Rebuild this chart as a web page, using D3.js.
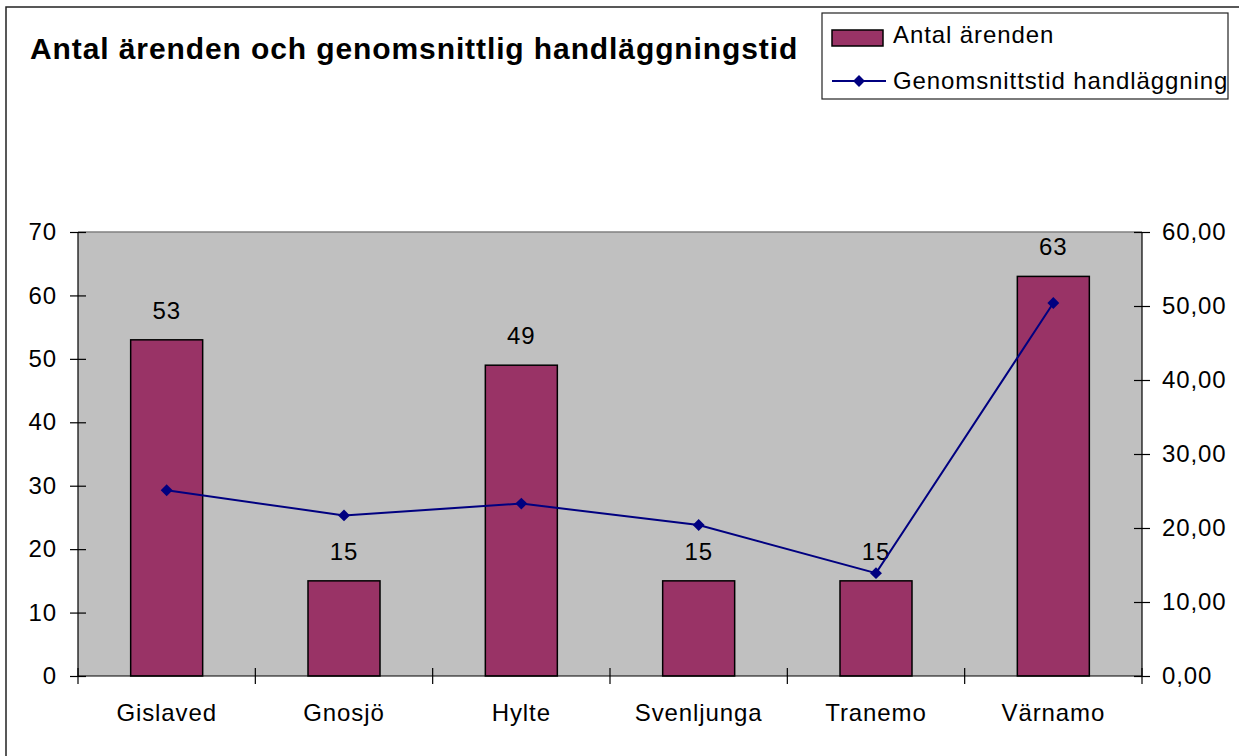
<!doctype html>
<html lang="sv">
<head>
<meta charset="utf-8">
<title>Antal ärenden och genomsnittlig handläggningstid</title>
<script src="https://cdn.jsdelivr.net/npm/d3@7"></script>
<style>
    body { margin: 0; background: #ffffff; }
    svg { display: block; font-family: "Liberation Sans", Arial, sans-serif; }
    text { letter-spacing: 0.9px; }
    .bar { fill: #993366; stroke: #000000; stroke-width: 1.5; }
    .axis path, .axis line { stroke: #000000; stroke-width: 1.2; }
    .axis text { font-size: 24px; fill: #000000; }
</style>
</head>
<body>
<svg></svg>
<script>
    var width = 1239;
    var height = 756;

    var kommuner = ['Gislaved', 'Gnosjö', 'Hylte', 'Svenljunga', 'Tranemo', 'Värnamo'];
    var antalArenden = [53, 15, 49, 15, 15, 63];
    var genomsnittstid = [25.1, 21.7, 23.3, 20.4, 13.9, 50.4];
    var leftTicks = [0, 10, 20, 30, 40, 50, 60, 70];
    var rightTicks = [0, 10, 20, 30, 40, 50, 60];

    var plot = { left: 78, right: 1142, top: 232, bottom: 676 };

    var svg = d3.select('svg').attr('width', width).attr('height', height);

    // outer chart frame
    svg.append('rect')
        .attr('x', 6).attr('y', 7)
        .attr('width', width + 10).attr('height', height + 10)
        .attr('fill', '#ffffff')
        .attr('stroke', '#222222')
        .attr('stroke-width', 1.5);

    var xScale = d3.scaleBand()
        .domain(kommuner)
        .range([plot.left, plot.right])
        .paddingInner(0.594)
        .paddingOuter(0.297);
    var xEdges = d3.scaleLinear()
        .domain([0, kommuner.length])
        .range([plot.left, plot.right]);
    var yLeft = d3.scaleLinear()
        .domain([0, 70])
        .range([plot.bottom, plot.top]);
    var yRight = d3.scaleLinear()
        .domain([0, 60])
        .range([plot.bottom, plot.top]);

    // plot area
    svg.append('rect')
        .attr('x', plot.left).attr('y', plot.top)
        .attr('width', plot.right - plot.left)
        .attr('height', plot.bottom - plot.top)
        .attr('fill', '#c0c0c0');
    svg.append('line')
        .attr('x1', plot.left).attr('x2', plot.right)
        .attr('y1', plot.top).attr('y2', plot.top)
        .attr('stroke', '#808080').attr('stroke-width', 1.5);

    // bars
    svg.selectAll('.bar')
        .data(antalArenden)
        .enter()
        .append('rect')
        .attr('class', 'bar')
        .attr('x', function (d, i) { return xScale(kommuner[i]); })
        .attr('y', function (d) { return yLeft(d); })
        .attr('width', xScale.bandwidth())
        .attr('height', function (d) { return plot.bottom - yLeft(d); });

    // bar labels
    svg.selectAll('.barlabel')
        .data(antalArenden)
        .enter()
        .append('text')
        .attr('class', 'barlabel')
        .attr('x', function (d, i) { return xScale(kommuner[i]) + xScale.bandwidth() / 2; })
        .attr('y', function (d) { return yLeft(d) - 21; })
        .attr('text-anchor', 'middle')
        .attr('font-size', '24px')
        .text(function (d) { return d; });

    // line
    var cx = function (d, i) { return xScale(kommuner[i]) + xScale.bandwidth() / 2; };
    var line = d3.line()
        .x(cx)
        .y(function (d) { return yRight(d); });
    svg.append('path')
        .datum(genomsnittstid)
        .attr('d', line)
        .attr('fill', 'none')
        .attr('stroke', '#000080')
        .attr('stroke-width', 2);
    var diamond = d3.symbol().type(d3.symbolDiamond2).size(90);
    svg.selectAll('.marker')
        .data(genomsnittstid)
        .enter()
        .append('path')
        .attr('class', 'marker')
        .attr('d', diamond)
        .attr('fill', '#000080')
        .attr('transform', function (d, i) {
            return 'translate(' + cx(d, i) + ',' + yRight(d) + ')';
        });

    // axes
    var leftAxis = d3.axisLeft(yLeft).tickValues(leftTicks).tickSize(8).tickPadding(13);
    var gl = svg.append('g').attr('class', 'axis')
        .attr('transform', 'translate(' + plot.left + ',0)')
        .call(leftAxis);
    gl.select('.domain').attr('d', 'M0,' + plot.top + 'V' + plot.bottom);
    gl.selectAll('.tick line').attr('x1', 8).attr('x2', -8);

    var fmt = d3.format('.2f');
    var rightAxis = d3.axisRight(yRight).tickValues(rightTicks).tickSize(8).tickPadding(12)
        .tickFormat(function (d) { return fmt(d).replace('.', ','); });
    var gr = svg.append('g').attr('class', 'axis')
        .attr('transform', 'translate(' + plot.right + ',0)')
        .call(rightAxis);
    gr.select('.domain').attr('d', 'M0,' + plot.top + 'V' + plot.bottom);
    gr.selectAll('.tick line').attr('x1', -8).attr('x2', 8);

    var bottomAxis = d3.axisBottom(xScale).tickSize(0).tickPadding(28);
    var gb = svg.append('g').attr('class', 'axis')
        .attr('transform', 'translate(0,' + plot.bottom + ')')
        .call(bottomAxis);
    gb.select('.domain').attr('d', 'M' + plot.left + ',0H' + plot.right);
    gb.selectAll('.edge')
        .data(d3.range(kommuner.length + 1))
        .enter()
        .append('line')
        .attr('class', 'edge')
        .attr('x1', function (d) { return xEdges(d); })
        .attr('x2', function (d) { return xEdges(d); })
        .attr('y1', -8).attr('y2', 8);

    // title
    svg.append('text')
        .attr('x', 30).attr('y', 59)
        .attr('font-size', '30px')
        .attr('font-weight', 'bold')
        .text('Antal ärenden och genomsnittlig handläggningstid');

    // legend
    var lg = svg.append('g');
    lg.append('rect')
        .attr('x', 822).attr('y', 13)
        .attr('width', 406).attr('height', 86)
        .attr('fill', '#ffffff')
        .attr('stroke', '#222222').attr('stroke-width', 1.2);
    lg.append('rect')
        .attr('x', 832).attr('y', 30)
        .attr('width', 51).attr('height', 16)
        .attr('class', 'bar');
    lg.append('text')
        .attr('x', 893).attr('y', 43)
        .attr('font-size', '24px')
        .text('Antal ärenden');
    lg.append('line')
        .attr('x1', 832).attr('x2', 886)
        .attr('y1', 81).attr('y2', 81)
        .attr('stroke', '#000080').attr('stroke-width', 2);
    lg.append('path')
        .attr('d', diamond)
        .attr('fill', '#000080')
        .attr('transform', 'translate(859,81)');
    lg.append('text')
        .attr('x', 893).attr('y', 89)
        .attr('font-size', '24px')
        .text('Genomsnittstid handläggning');
</script>
</body>
</html>
